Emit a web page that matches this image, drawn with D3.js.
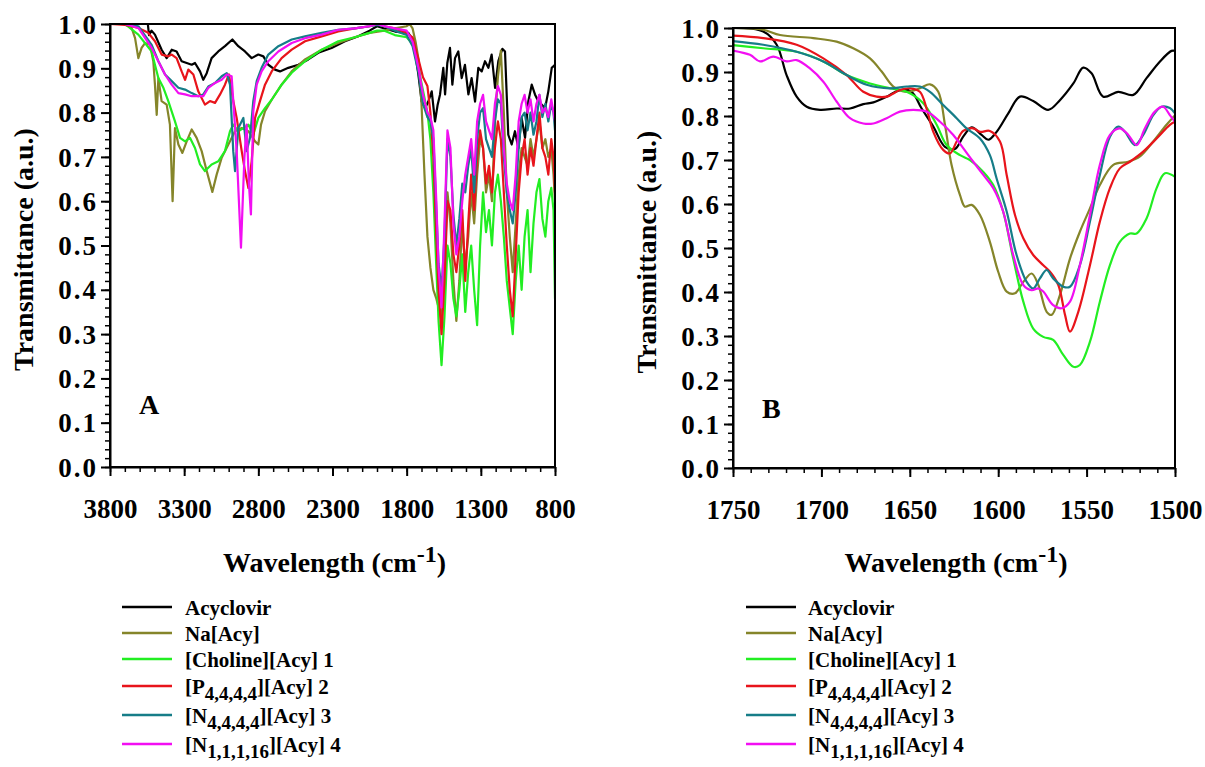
<!DOCTYPE html>
<html>
<head>
<meta charset="utf-8">
<script src="https://cdn.jsdelivr.net/npm/d3@7"></script>
<style>
  body { margin: 0; background: #fff; }
</style>
</head>
<body>
<div class="graph"></div>
<script>
const FONT = '"Liberation Serif", Tinos, "Times New Roman", Times, "DejaVu Serif", serif';

// series names, colours (legend order)
const seriesNames = [
  [{t: 'Acyclovir'}],
  [{t: 'Na[Acy]'}],
  [{t: '[Choline][Acy] 1'}],
  [{t: '[P'}, {t: '4,4,4,4', sub: true}, {t: '][Acy] 2'}],
  [{t: '[N'}, {t: '4,4,4,4', sub: true}, {t: '][Acy] 3'}],
  [{t: '[N'}, {t: '1,1,1,16', sub: true}, {t: '][Acy] 4'}]
];
const colors = ['#000000', '#85852a', '#22ee22', '#e8141b', '#167d88', '#f20ff2'];

// tick labels
const yTicks = [0, 0.1, 0.2, 0.3, 0.4, 0.5, 0.6, 0.7, 0.8, 0.9, 1.0];
const xTicksA = [3800, 3300, 2800, 2300, 1800, 1300, 800];
const xTicksB = [1750, 1700, 1650, 1600, 1550, 1500];

// panel A : [wavenumber, transmittance]
const acyA = [[3800,1.0],[3600,1.0],[3545,1.0],[3537,0.975],[3520,0.985],[3497,0.976],[3452,0.942],[3418,0.923],[3384,0.942],[3351,0.938],[3317,0.916],[3249,0.908],[3227,0.912],[3193,0.893],[3171,0.874],[3148,0.889],[3115,0.923],[3070,0.938],[3025,0.95],[2975,0.965],[2935,0.95],[2890,0.938],[2845,0.923],[2800,0.931],[2766,0.927],[2733,0.908],[2688,0.897],[2654,0.893],[2598,0.901],[2530,0.908],[2463,0.92],[2396,0.935],[2306,0.946],[2216,0.961],[2130,0.972],[2050,0.985],[2000,0.995],[1950,0.99],[1878,0.983],[1789,0.98],[1755,0.961],[1744,0.938],[1721,0.886],[1699,0.825],[1676,0.81],[1654,0.825],[1631,0.848],[1609,0.78],[1591,0.818],[1575,0.841],[1553,0.901],[1541,0.841],[1526,0.912],[1508,0.946],[1492,0.863],[1474,0.923],[1452,0.938],[1429,0.878],[1407,0.908],[1384,0.841],[1362,0.878],[1339,0.825],[1317,0.901],[1294,0.893],[1272,0.916],[1249,0.901],[1227,0.931],[1204,0.856],[1182,0.916],[1155,0.944],[1137,0.938],[1115,0.75],[1092,0.728],[1070,0.758],[1047,0.72],[1025,0.788],[1002,0.743],[980,0.825],[957,0.863],[935,0.841],[912,0.825],[890,0.818],[867,0.81],[845,0.848],[822,0.901],[800,0.908]];
const naA = [[3800,1.0],[3700,1.0],[3654,0.991],[3631,0.968],[3609,0.923],[3587,0.946],[3564,0.957],[3530,0.953],[3508,0.916],[3497,0.863],[3485,0.795],[3474,0.878],[3452,0.826],[3418,0.818],[3396,0.773],[3378,0.60],[3362,0.765],[3339,0.728],[3312,0.709],[3283,0.735],[3249,0.762],[3216,0.743],[3182,0.713],[3148,0.668],[3110,0.621],[3081,0.66],[3047,0.698],[3002,0.728],[2957,0.758],[2912,0.765],[2867,0.758],[2822,0.735],[2800,0.728],[2782,0.773],[2755,0.803],[2710,0.829],[2643,0.863],[2575,0.893],[2485,0.92],[2373,0.942],[2261,0.957],[2150,0.97],[2050,0.98],[1950,0.985],[1880,0.99],[1800,0.995],[1780,1.0],[1760,0.99],[1740,0.96],[1720,0.92],[1700,0.82],[1680,0.66],[1660,0.52],[1640,0.45],[1620,0.40],[1600,0.38],[1585,0.36],[1565,0.33],[1545,0.45],[1525,0.62],[1505,0.55],[1485,0.42],[1465,0.33],[1445,0.42],[1425,0.55],[1405,0.45],[1385,0.52],[1365,0.62],[1345,0.55],[1325,0.66],[1305,0.74],[1285,0.72],[1265,0.62],[1245,0.66],[1225,0.60],[1205,0.78],[1185,0.88],[1165,0.94],[1145,0.80],[1125,0.62],[1105,0.52],[1085,0.44],[1065,0.55],[1045,0.66],[1025,0.72],[1005,0.70],[985,0.68],[965,0.74],[945,0.70],[925,0.74],[905,0.78],[885,0.72],[865,0.74],[845,0.70],[825,0.72],[810,0.66],[800,0.60]];
const cholA = [[3800,1.0],[3700,1.0],[3609,0.976],[3519,0.938],[3497,0.908],[3474,0.878],[3440,0.856],[3407,0.826],[3362,0.78],[3328,0.743],[3294,0.735],[3261,0.743],[3227,0.72],[3193,0.683],[3160,0.668],[3115,0.683],[3070,0.69],[3025,0.713],[2991,0.758],[2969,0.773],[2935,0.758],[2901,0.765],[2867,0.773],[2834,0.75],[2800,0.788],[2755,0.81],[2710,0.829],[2643,0.863],[2575,0.89],[2485,0.916],[2373,0.942],[2261,0.961],[2150,0.97],[2050,0.98],[2000,0.985],[1950,0.985],[1880,0.975],[1800,0.97],[1760,0.955],[1720,0.90],[1690,0.85],[1660,0.80],[1640,0.74],[1620,0.62],[1600,0.45],[1585,0.33],[1565,0.23],[1545,0.34],[1525,0.50],[1505,0.46],[1485,0.38],[1465,0.34],[1445,0.40],[1425,0.48],[1405,0.35],[1385,0.44],[1365,0.50],[1345,0.40],[1325,0.32],[1305,0.50],[1285,0.62],[1265,0.53],[1245,0.58],[1225,0.50],[1205,0.62],[1185,0.66],[1165,0.60],[1145,0.52],[1125,0.42],[1105,0.36],[1085,0.30],[1065,0.42],[1045,0.50],[1025,0.40],[1005,0.52],[985,0.58],[965,0.44],[945,0.55],[925,0.62],[905,0.65],[885,0.56],[865,0.52],[845,0.60],[825,0.63],[810,0.58],[800,0.38]];
const p4A = [[3800,1.0],[3700,0.998],[3654,0.995],[3609,0.991],[3542,0.98],[3497,0.961],[3452,0.931],[3407,0.927],[3384,0.931],[3351,0.923],[3317,0.893],[3294,0.874],[3272,0.897],[3238,0.886],[3205,0.848],[3160,0.818],[3126,0.826],[3092,0.822],[3058,0.841],[3025,0.863],[2998,0.886],[2969,0.826],[2946,0.788],[2912,0.713],[2890,0.668],[2867,0.63],[2845,0.69],[2822,0.788],[2789,0.826],[2755,0.863],[2710,0.893],[2643,0.923],[2575,0.942],[2485,0.961],[2373,0.972],[2261,0.983],[2150,0.99],[2050,0.995],[2000,1.0],[1950,0.995],[1880,0.99],[1800,0.98],[1760,0.97],[1720,0.92],[1690,0.88],[1660,0.86],[1640,0.80],[1620,0.70],[1600,0.52],[1585,0.40],[1565,0.30],[1545,0.42],[1525,0.60],[1505,0.58],[1485,0.48],[1465,0.44],[1445,0.50],[1425,0.58],[1405,0.42],[1385,0.55],[1365,0.66],[1345,0.58],[1325,0.70],[1305,0.76],[1285,0.72],[1265,0.64],[1245,0.68],[1225,0.62],[1205,0.72],[1185,0.78],[1165,0.74],[1145,0.62],[1125,0.50],[1105,0.40],[1085,0.34],[1065,0.48],[1045,0.62],[1025,0.70],[1005,0.74],[985,0.66],[965,0.72],[945,0.68],[925,0.74],[905,0.80],[885,0.72],[865,0.70],[845,0.66],[825,0.74],[810,0.70],[800,0.62]];
const n4A = [[3800,1.0],[3700,1.0],[3609,0.995],[3519,0.953],[3474,0.916],[3429,0.886],[3384,0.871],[3339,0.856],[3294,0.852],[3249,0.844],[3205,0.837],[3171,0.841],[3137,0.859],[3092,0.867],[3047,0.882],[3013,0.889],[2991,0.863],[2969,0.713],[2957,0.668],[2935,0.765],[2901,0.788],[2879,0.713],[2856,0.743],[2834,0.826],[2811,0.871],[2778,0.901],[2733,0.931],[2665,0.95],[2575,0.965],[2485,0.972],[2373,0.98],[2261,0.987],[2150,0.99],[2050,0.995],[2000,0.998],[1950,0.995],[1880,0.985],[1800,0.975],[1760,0.95],[1720,0.89],[1690,0.82],[1660,0.79],[1640,0.78],[1620,0.74],[1600,0.58],[1585,0.46],[1565,0.40],[1545,0.52],[1525,0.74],[1505,0.70],[1485,0.57],[1465,0.50],[1445,0.56],[1425,0.64],[1405,0.62],[1385,0.68],[1365,0.72],[1345,0.62],[1325,0.74],[1305,0.80],[1285,0.81],[1265,0.74],[1245,0.72],[1225,0.70],[1205,0.78],[1185,0.83],[1165,0.82],[1145,0.70],[1125,0.62],[1105,0.58],[1085,0.55],[1065,0.62],[1045,0.72],[1025,0.79],[1005,0.80],[985,0.76],[965,0.80],[945,0.75],[925,0.78],[905,0.84],[885,0.79],[865,0.82],[845,0.78],[825,0.82],[810,0.80],[800,0.76]];
const n16A = [[3800,1.0],[3700,1.0],[3609,0.991],[3519,0.946],[3474,0.916],[3429,0.886],[3384,0.863],[3339,0.844],[3294,0.841],[3249,0.837],[3205,0.837],[3171,0.837],[3137,0.856],[3092,0.867],[3047,0.874],[3013,0.886],[2980,0.882],[2946,0.713],[2917,0.495],[2894,0.698],[2879,0.773],[2863,0.637],[2850,0.57],[2834,0.803],[2811,0.863],[2778,0.893],[2733,0.916],[2665,0.938],[2575,0.957],[2485,0.968],[2373,0.976],[2261,0.987],[2150,0.99],[2050,0.995],[2000,1.0],[1950,0.995],[1880,0.99],[1800,0.985],[1760,0.96],[1720,0.90],[1690,0.84],[1660,0.80],[1640,0.79],[1620,0.76],[1600,0.60],[1585,0.45],[1565,0.36],[1545,0.55],[1525,0.76],[1505,0.72],[1485,0.55],[1465,0.48],[1445,0.52],[1425,0.60],[1405,0.66],[1385,0.70],[1365,0.74],[1345,0.66],[1325,0.78],[1305,0.82],[1285,0.84],[1265,0.78],[1245,0.76],[1225,0.74],[1205,0.82],[1185,0.86],[1165,0.84],[1145,0.72],[1125,0.64],[1105,0.60],[1085,0.58],[1065,0.66],[1045,0.78],[1025,0.82],[1005,0.84],[985,0.80],[965,0.83],[945,0.78],[925,0.82],[905,0.84],[885,0.80],[865,0.81],[845,0.79],[825,0.83],[810,0.80],[800,0.78]];

// panel B : [wavenumber, transmittance]
const acyB = [[1751.7,1.0],[1732.9,0.992],[1725.3,0.962],[1719.7,0.893],[1714,0.844],[1708.3,0.821],[1700.8,0.814],[1691.4,0.817],[1683.8,0.817],[1676.3,0.827],[1670.6,0.831],[1663.1,0.844],[1655.6,0.859],[1649,0.855],[1643.3,0.817],[1636.7,0.776],[1630.1,0.73],[1624.5,0.725],[1619.8,0.753],[1615,0.774],[1609.4,0.757],[1605.6,0.746],[1600.9,0.764],[1594.3,0.806],[1587.7,0.844],[1580.2,0.834],[1571.7,0.814],[1565.1,0.836],[1557.5,0.874],[1551.9,0.91],[1547.2,0.897],[1540.6,0.844],[1532.1,0.855],[1523.6,0.848],[1516.1,0.886],[1508.5,0.924],[1502,0.948],[1500,0.948]];
const naB = [[1751.7,1.0],[1732.9,0.996],[1723.4,0.984],[1704.6,0.977],[1691.4,0.969],[1682,0.954],[1672.5,0.931],[1665.9,0.901],[1659.3,0.867],[1651.8,0.855],[1644.3,0.863],[1638.6,0.872],[1633.9,0.855],[1630.1,0.78],[1626.4,0.689],[1621.6,0.62],[1618.8,0.594],[1615,0.598],[1610.3,0.575],[1604.7,0.514],[1600,0.446],[1595.2,0.401],[1590.5,0.397],[1585.8,0.423],[1581.1,0.442],[1577.3,0.416],[1572.6,0.355],[1569.8,0.348],[1565.1,0.393],[1559.4,0.476],[1553.8,0.537],[1548.1,0.59],[1542.5,0.643],[1534.9,0.689],[1526.4,0.696],[1519.8,0.708],[1512.3,0.742],[1504.8,0.78],[1500,0.802]];
const cholB = [[1751.7,0.962],[1732.9,0.954],[1714,0.946],[1698.9,0.924],[1685.7,0.893],[1672.5,0.874],[1661.2,0.863],[1651.8,0.855],[1642.4,0.829],[1634.8,0.78],[1629.2,0.734],[1621.6,0.711],[1616,0.70],[1608.4,0.673],[1602.8,0.643],[1597.2,0.583],[1591.5,0.476],[1585.8,0.378],[1580.2,0.317],[1574.5,0.298],[1568.9,0.291],[1563.2,0.257],[1557.5,0.23],[1553.8,0.234],[1548.1,0.287],[1542.5,0.378],[1536.8,0.461],[1531.2,0.514],[1525.5,0.533],[1521.7,0.533],[1516.1,0.567],[1510.4,0.636],[1505.7,0.67],[1500,0.662]];
const p4B = [[1751.7,0.983],[1732.9,0.977],[1714,0.962],[1698.9,0.931],[1685.7,0.893],[1676.3,0.855],[1668.8,0.844],[1663.1,0.844],[1655.6,0.859],[1649.9,0.863],[1644.3,0.855],[1640.5,0.817],[1636.7,0.764],[1631.1,0.723],[1627.3,0.715],[1623.5,0.742],[1619.8,0.766],[1614.1,0.772],[1610.3,0.764],[1604.7,0.766],[1599,0.742],[1595.2,0.666],[1590.5,0.575],[1585.8,0.522],[1580.2,0.484],[1574.5,0.461],[1570.7,0.446],[1566,0.416],[1562.2,0.348],[1559.4,0.31],[1554.7,0.355],[1548.1,0.461],[1542.5,0.56],[1536.8,0.636],[1531.2,0.681],[1525.5,0.696],[1518,0.719],[1510.4,0.749],[1502.9,0.78],[1500,0.787]];
const n4B = [[1751.7,0.971],[1732.9,0.962],[1714,0.946],[1698.9,0.924],[1685.7,0.893],[1674.4,0.871],[1661.2,0.863],[1651.8,0.867],[1644.3,0.867],[1638.6,0.855],[1631.1,0.825],[1623.5,0.795],[1617.9,0.772],[1610.3,0.749],[1604.7,0.711],[1600.9,0.658],[1595.2,0.583],[1589.6,0.484],[1583.9,0.423],[1580.2,0.408],[1576.4,0.431],[1572.6,0.45],[1568.9,0.431],[1563.2,0.412],[1559.4,0.412],[1553.8,0.461],[1548.1,0.56],[1542.5,0.666],[1536.8,0.753],[1532.1,0.776],[1528.3,0.764],[1522.7,0.734],[1518,0.757],[1512.3,0.802],[1507.6,0.821],[1502.9,0.818],[1500,0.806]];
const n16B = [[1751.7,0.95],[1740.4,0.939],[1734.7,0.924],[1727.2,0.935],[1719.7,0.924],[1714,0.927],[1706.5,0.908],[1698.9,0.878],[1691.4,0.833],[1683.8,0.795],[1676.3,0.783],[1670.6,0.783],[1663.1,0.795],[1655.6,0.81],[1648,0.814],[1640.5,0.81],[1632.9,0.787],[1625.4,0.757],[1619.8,0.727],[1614.1,0.696],[1608.4,0.666],[1602.8,0.636],[1597.2,0.583],[1591.5,0.484],[1585.8,0.416],[1581.1,0.404],[1577.3,0.408],[1574.5,0.401],[1568.9,0.37],[1564.1,0.363],[1559.4,0.378],[1553.8,0.461],[1548.1,0.575],[1542.5,0.689],[1536.8,0.757],[1531.2,0.772],[1526.4,0.757],[1521.7,0.734],[1517,0.772],[1511.4,0.81],[1506.7,0.821],[1502.9,0.802],[1500,0.787]];

const seriesA = [acyA, naA, cholA, p4A, n4A, n16A];
const seriesB = [acyB, naB, cholB, p4B, n4B, n16B];

const svg = d3.select('.graph')
    .append('svg')
    .attr('width', 1205)
    .attr('height', 767)
    .style('font-family', FONT)
    .style('font-weight', 'bold');

svg.append('rect').attr('width', 1205).attr('height', 767).attr('fill', '#fff');

function drawPanel(id, box, xDomain, xTicks, xMinorStep, series, curve, letter) {
    const xScale = d3.scaleLinear().domain(xDomain).range([box.left, box.right]);
    const yScale = d3.scaleLinear().domain([0, 1]).range([box.bottom, box.top]);

    svg.append('clipPath').attr('id', 'clip' + id)
        .append('rect')
        .attr('x', box.left).attr('y', box.top)
        .attr('width', box.right - box.left).attr('height', box.bottom - box.top);

    const line = d3.line()
        .x(d => xScale(d[0]))
        .y(d => yScale(d[1]))
        .curve(curve);

    svg.append('g')
        .attr('clip-path', `url(#clip${id})`)
        .selectAll('path')
        .data(series)
        .enter()
        .append('path')
        .attr('d', line)
        .attr('fill', 'none')
        .attr('stroke', (d, i) => colors[i])
        .attr('stroke-width', 2.2)
        .attr('stroke-linejoin', 'round');

    // frame
    svg.append('rect')
        .attr('x', box.left).attr('y', box.top)
        .attr('width', box.right - box.left).attr('height', box.bottom - box.top)
        .attr('fill', 'none').attr('stroke', '#000').attr('stroke-width', 2);

    // minor ticks
    const lo = Math.min(xDomain[0], xDomain[1]), hi = Math.max(xDomain[0], xDomain[1]);
    svg.append('g')
        .attr('transform', `translate(0,${box.bottom})`)
        .call(d3.axisBottom(xScale).tickValues(d3.range(lo, hi + 1, xMinorStep)).tickSize(5).tickSizeOuter(0).tickFormat(''))
        .call(g => g.selectAll('line').attr('stroke-width', 1.5));
    svg.append('g')
        .attr('transform', `translate(${box.left},0)`)
        .call(d3.axisLeft(yScale).tickValues(d3.range(0, 51).map(i => i / 50)).tickSize(5).tickSizeOuter(0).tickFormat(''))
        .call(g => g.selectAll('line').attr('stroke-width', 1.5));

    // major ticks + labels
    const xAxis = svg.append('g')
        .classed('x axis', true)
        .attr('transform', `translate(0,${box.bottom})`)
        .call(d3.axisBottom(xScale).tickValues(xTicks).tickSize(9).tickSizeOuter(0).tickFormat(d3.format('d')));
    xAxis.selectAll('line').attr('stroke-width', 2);
    xAxis.select('.domain').attr('stroke-width', 2);
    xAxis.selectAll('text')
        .attr('y', 51).attr('dy', 0)
        .style('font-family', FONT)
        .style('font-weight', 'bold')
        .style('font-size', '27px');

    const yAxis = svg.append('g')
        .classed('y axis', true)
        .attr('transform', `translate(${box.left},0)`)
        .call(d3.axisLeft(yScale).tickValues(yTicks).tickSize(9).tickSizeOuter(0).tickFormat(d3.format('.1f')));
    yAxis.selectAll('line').attr('stroke-width', 2);
    yAxis.select('.domain').attr('stroke-width', 2);
    yAxis.selectAll('text')
        .attr('x', -12).attr('dy', '0.34em')
        .style('font-family', FONT)
        .style('font-weight', 'bold')
        .style('font-size', '27px')
        .style('letter-spacing', '2px');

    // axis titles
    svg.append('text')
        .attr('transform', `translate(${box.left - 77},${(box.top + box.bottom) / 2 + 4}) rotate(-90)`)
        .style('text-anchor', 'middle')
        .style('font-size', '28px')
        .text('Transmittance (a.u.)');

    const xt = svg.append('text')
        .attr('x', (box.left + box.right) / 2 + 2)
        .attr('y', 572)
        .style('text-anchor', 'middle')
        .style('font-size', '28px');
    xt.append('tspan').text('Wavelength (cm');
    xt.append('tspan').attr('dy', -10).style('font-size', '24px').text('-1');
    xt.append('tspan').attr('dy', 10).text(')');

    svg.append('text')
        .attr('x', box.left + 29)
        .attr('y', box.top + 390)
        .style('font-size', '28px')
        .text(letter);
}

function drawLegend(x1, x2, tx, rowsY) {
    const g = svg.append('g');
    g.selectAll('line')
        .data(seriesNames)
        .enter()
        .append('line')
        .attr('x1', x1).attr('x2', x2)
        .attr('y1', (d, i) => rowsY[i]).attr('y2', (d, i) => rowsY[i])
        .attr('stroke', (d, i) => colors[i])
        .attr('stroke-width', 2.5);
    g.selectAll('text')
        .data(seriesNames)
        .enter()
        .append('text')
        .attr('x', tx)
        .attr('y', (d, i) => rowsY[i] + 8)
        .style('font-size', '21px')
        .each(function (parts) {
            const t = d3.select(this);
            parts.forEach(p => {
                if (p.sub) {
                    t.append('tspan').attr('dy', 6).style('font-size', '19px').text(p.t);
                } else {
                    const sp = t.append('tspan').text(p.t);
                    if (p.t.startsWith(']')) sp.attr('dy', -6);
                }
            });
        });
}

drawPanel('A', {left: 110, right: 555, top: 24, bottom: 467}, [3800, 800], xTicksA, 100, seriesA, d3.curveLinear, 'A');
drawPanel('B', {left: 733, right: 1175, top: 28, bottom: 468}, [1750, 1500], xTicksB, 10, seriesB, d3.curveCatmullRom, 'B');

const legendRows = [607, 633, 659, 686, 715, 744];
drawLegend(122, 172, 185, legendRows);
drawLegend(746, 796, 808, legendRows);
</script>
</body>
</html>
